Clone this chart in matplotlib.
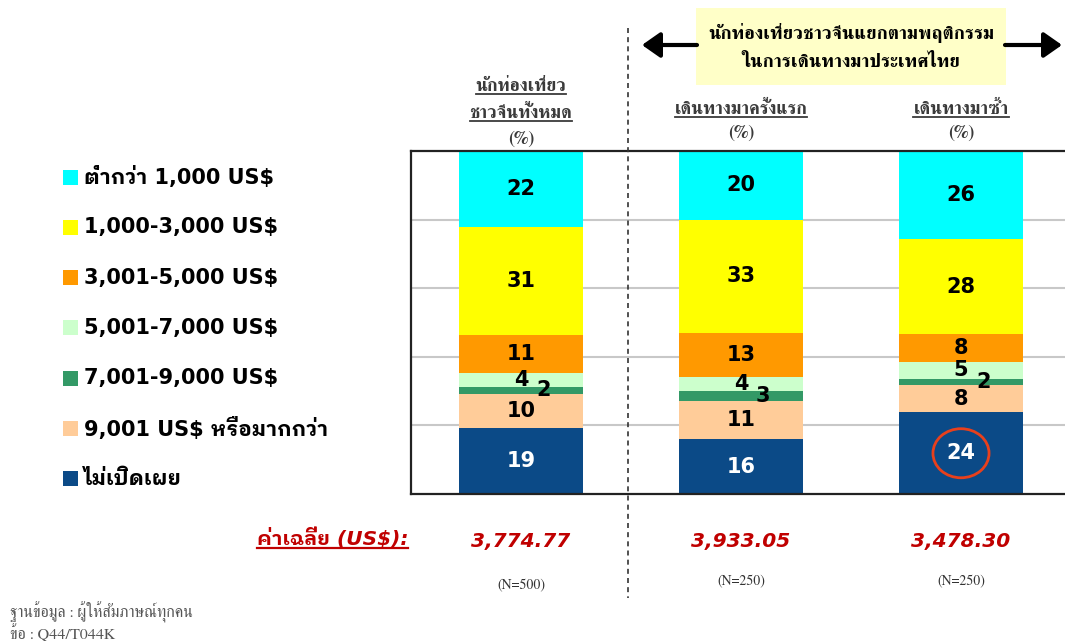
import matplotlib
matplotlib.use("Agg")
import matplotlib.pyplot as plt
from matplotlib.patches import Rectangle, Ellipse, FancyArrowPatch
from matplotlib.lines import Line2D
from matplotlib.transforms import blended_transform_factory
import numpy as np

# ---------------- data ----------------
groups = ["นักท่องเที่ยวชาวจีนทั้งหมด", "เดินทางมาครั้งแรก", "เดินทางมาซ้ำ"]
header_lines = [["นักท่องเที่ยว", "ชาวจีนทั้งหมด"], ["เดินทางมาครั้งแรก"], ["เดินทางมาซ้ำ"]]

# stacked from bottom to top
undisclosed = [19, 16, 24]
over_9001 = [10, 11, 8]
r7001_9000 = [2, 3, 2]
r5001_7000 = [4, 4, 5]
r3001_5000 = [11, 13, 8]
r1000_3000 = [31, 33, 28]
below_1000 = [22, 20, 26]

series_labels = ["ไม่เปิดเผย", "9,001 US$ หรือมากกว่า", "7,001-9,000 US$",
                 "5,001-7,000 US$", "3,001-5,000 US$", "1,000-3,000 US$",
                 "ต่ำกว่า 1,000 US$"]
series_values = [undisclosed, over_9001, r7001_9000, r5001_7000,
                 r3001_5000, r1000_3000, below_1000]
series_colors = ["#0B4A87", "#FFCC99", "#339966", "#CCFFCC",
                 "#FF9900", "#FFFF00", "#00FFFF"]

averages = ["3,774.77", "3,933.05", "3,478.30"]
sample_sizes = ["(N=500)", "(N=250)", "(N=250)"]
box_title = ["นักท่องเที่ยวชาวจีนแยกตามพฤติกรรม", "ในการเดินทางมาประเทศไทย"]
avg_label = "ค่าเฉลี่ย (US$):"
footer = ["ฐานข้อมูล : ผู้ให้สัมภาษณ์ทุกคน", "ข้อ : Q44/T044K"]

# ---------------- styling ----------------
SANS = ["DejaVu Sans", "IBM Plex Sans Thai Looped", "Noto Sans Thai"]
SERIF = ["FreeSerif", "Noto Serif Thai"]
W, H = 1065, 641

def fx(px):
    return px / W

def fy(py):
    return 1 - py / H

fig = plt.figure(figsize=(W / 100, H / 100), dpi=100)
ax = fig.add_axes([fx(411), fy(494), fx(1071) - fx(411), (494 - 151) / H])

x = np.arange(len(groups))
vals = np.array(series_values, dtype=float)
totals = vals.sum(axis=0)
pct = vals / totals * 100.0
bottom = np.zeros(len(groups))
bar_w = 0.56
for i, (lab, col) in enumerate(zip(series_labels, series_colors)):
    ax.bar(x, pct[i], bar_w, bottom=bottom, color=col, linewidth=0, zorder=2, label=lab)
    for j in range(len(groups)):
        yc = bottom[j] + pct[i][j] / 2
        tcol = "white" if i == 0 else "black"
        off = 16 if i == 2 else 0
        ax.annotate(str(series_values[i][j]), (x[j], yc), xytext=(off, 0),
                    textcoords="offset points", ha="center", va="center",
                    fontsize=15, fontweight="bold", color=tcol,
                    family=SANS, zorder=5)
    if i == 0:
        # highlight circle on the repeat-visitor undisclosed value
        j = 2
        yc = bottom[j] + pct[i][j] / 2
        ax.add_patch(Ellipse((x[j], yc), 0.255, 14.3, facecolor="none",
                             edgecolor="#E8401C", linewidth=2, zorder=6))
    bottom += pct[i]

ax.set_xlim(-0.5, 2.5)
ax.set_ylim(0, 100)
ax.set_yticks([20, 40, 60, 80])
ax.set_xticks([])
ax.tick_params(axis="y", length=0, labelleft=False)
ax.yaxis.grid(True, color="#C8C8C8", linewidth=1.5, zorder=0)
ax.set_axisbelow(True)
for s in ["left", "top", "bottom"]:
    ax.spines[s].set_color("#222222")
    ax.spines[s].set_linewidth(1.6)
ax.spines["right"].set_visible(False)

# divider dashed line
fig.add_artist(Line2D([fx(628), fx(628)], [fy(28), fy(598)], transform=fig.transFigure,
                      color="#333333", linewidth=1.2, linestyle=(0, (3, 2.5))))

# header box and arrows
fig.add_artist(Rectangle((fx(696), fy(85)), fx(1006) - fx(696), (85 - 8) / H,
                         transform=fig.transFigure, facecolor="#FFFFC8",
                         edgecolor="none", zorder=1))
for x0, x1 in [(fx(697), fx(642)), (fx(1005), fx(1062))]:
    fig.add_artist(FancyArrowPatch((x0, fy(45)), (x1, fy(45)), transform=fig.transFigure,
                                   arrowstyle="-|>,head_length=5,head_width=3.5",
                                   mutation_scale=2.2, linewidth=3, color="black",
                                   shrinkA=0, shrinkB=0))
for k, (line, yy) in enumerate(zip(box_title, [33, 62])):
    fig.text(fx(851), fy(yy), line, ha="center", va="center", fontsize=13.5,
             fontweight="bold", family=SERIF, color="black", zorder=3)

trans = blended_transform_factory(ax.transData, fig.transFigure)

# column headers with underline
underlined = []
for j, lines in enumerate(header_lines):
    if len(lines) == 2:
        baselines = [91, 118]
        pct_y = 139
    else:
        baselines = [114]
        pct_y = 133
    for line, b in zip(lines, baselines):
        t = ax.text(x[j], fy(b), line, transform=trans, ha="center", va="baseline",
                    fontsize=13, fontweight="bold", family=SERIF, color="#3A3A3A")
        underlined.append((t, b + 2.5, "#3A3A3A", 1.3))
    ax.text(x[j], fy(pct_y), "(%)", transform=trans, ha="center", va="center",
            fontsize=13, fontweight="bold", family=SERIF, color="#3A3A3A")

# averages row
t = fig.text(fx(257), fy(545), avg_label, ha="left", va="baseline", fontsize=14.5,
             fontweight="bold", fontstyle="italic", family=SANS, color="#C00000")
underlined.append((t, 548, "#C00000", 1.6))
for j, a in enumerate(averages):
    ax.text(x[j], fy(547), a, transform=trans, ha="center", va="baseline",
            fontsize=14.5, fontweight="bold", fontstyle="italic", family=SANS,
            color="#C00000")
for j, n in enumerate(sample_sizes):
    ax.text(x[j], fy(586 if j == 0 else 582), n, transform=trans, ha="center",
            va="center", fontsize=10, family=SERIF, color="#333333")

# footer
for line, yy in zip(footer, [612, 633]):
    fig.text(fx(10), fy(yy), line, ha="left", va="center", fontsize=11.5,
             family=SERIF, color="#555555")

# legend (top-to-bottom: reverse of stacking)
for k, (lab, col) in enumerate(zip(series_labels[::-1], series_colors[::-1])):
    yc = 177 + 50.3 * k
    fig.add_artist(Rectangle((fx(63), fy(yc + 7.5)), 15 / W, 15 / H,
                             transform=fig.transFigure, facecolor=col, edgecolor="none"))
    fig.text(fx(84), fy(yc), lab, ha="left", va="center", fontsize=15,
             fontweight="bold", family=SANS, color="black")

# draw underlines
fig.canvas.draw()
r = fig.canvas.get_renderer()
for t, ypx, col, lw in underlined:
    bb = t.get_window_extent(r)
    fig.add_artist(Line2D([bb.x0 / W, bb.x1 / W], [fy(ypx), fy(ypx)],
                          transform=fig.transFigure, color=col, linewidth=lw))

fig.savefig("out.png", dpi=100)
